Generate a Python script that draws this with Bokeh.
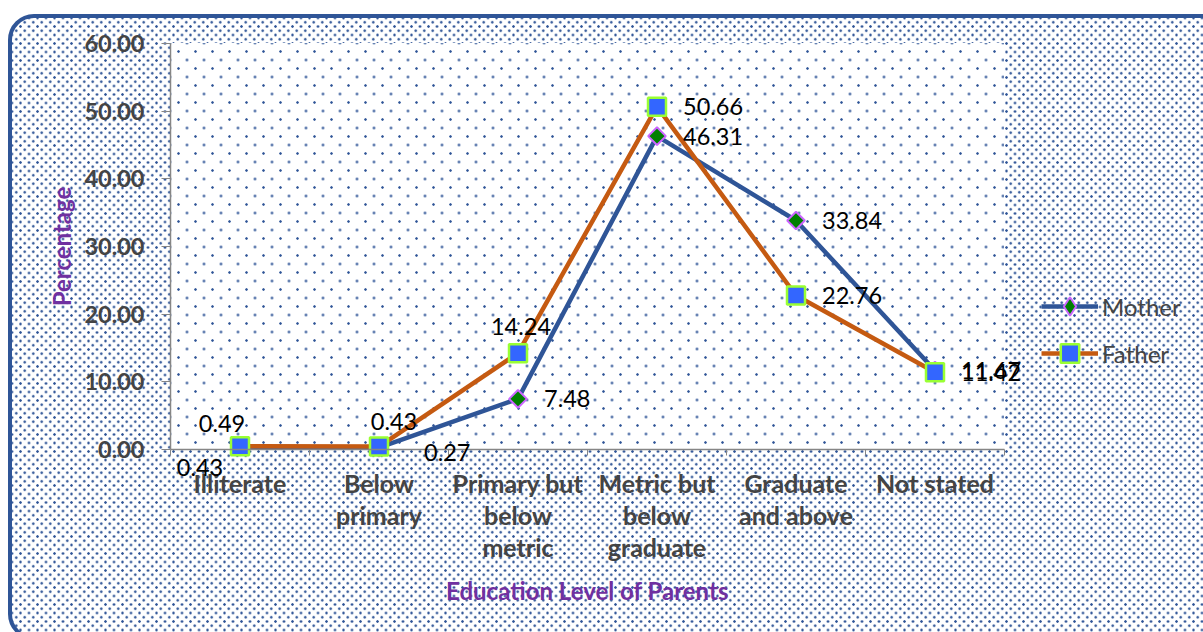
import math
from bokeh.plotting import figure
from bokeh.models import (ColumnDataSource, FixedTicker, Legend, LegendItem, LabelSet, Range1d,
                          InlineStyleSheet)
from bokeh.core.properties import value
from bokeh.embed import file_html
from bokeh.resources import INLINE

categories = ["Illiterate", "Below\nprimary", "Primary but\nbelow\nmetric",
              "Metric but\nbelow\ngraduate", "Graduate\nand above", "Not stated"]
mother = [0.43, 0.27, 7.48, 46.31, 33.84, 11.67]
father = [0.49, 0.43, 14.24, 50.66, 22.76, 11.42]
y_ticks = [0, 10, 20, 30, 40, 50, 60]

# label placement styles (offsets in px, alignment)
place = {"above_l": (-18, 23, "center"), "above_r": (15, 25, "center"), "above_c": (3, 27, "center"),
         "right": (26, 0, "left"), "below_left": (-40, -21, "center"), "below_right": (45, -5, "left")}
mother_pos = ["below_left", "below_right", "right", "right", "right", "right"]
father_pos = ["above_l", "above_r", "above_c", "right", "right", "right"]

FONT = "Lato"
PURPLE = "#7030A0"
BLUE_LINE = "#2F5597"
ORANGE = "#C55A11"
DOT = "#2F5597"

# layout (canvas pixels)
W, H = 1203, 632
PL, PR, PT, PB = 170, 1004, 43, 449   # plot area
YMAX = 60
n = len(categories)
xpp = n / (PR - PL)
ypp = YMAX / (PB - PT)

xs = [i + 0.5 for i in range(n)]

dots = (f"radial-gradient(circle at center, {DOT} 0.9px, rgba(47,85,151,0.35) 1.3px, transparent 1.7px), "
        f"radial-gradient(circle at center, {DOT} 0.9px, rgba(47,85,151,0.35) 1.3px, transparent 1.7px)")
css = f"""
:host {{ position: relative; isolation: isolate; overflow: hidden; }}
:host::before {{
  content: ""; position: absolute; left: 8px; top: 14px; width: 1240px; height: 626px;
  box-sizing: border-box; border: 4px solid {BLUE_LINE}; border-radius: 26px;
  background-color: white; background-image: {dots};
  background-size: 8.5px 8.5px; background-position: 0 0, 4.25px 4.25px;
  z-index: -2;
}}
:host::after {{
  content: ""; position: absolute; left: {PL}px; top: {PT}px; width: {PR - PL}px; height: {PB - PT}px;
  background-color: white; background-image: {dots};
  background-size: 17px 17px; background-position: 0 0, 8.5px 8.5px;
  z-index: -1;
}}
"""

p = figure(width=W, height=H, output_backend="svg", toolbar_location=None,
           x_range=Range1d(-PL * xpp, n + (W - PR) * xpp),
           y_range=Range1d(-(H - PB) * ypp, YMAX + PT * ypp),
           min_border=0, stylesheets=[InlineStyleSheet(css=css)])
p.border_fill_alpha = 0
p.background_fill_alpha = 0
p.outline_line_color = None
p.xgrid.visible = False
p.ygrid.visible = False

src_m = ColumnDataSource(dict(x=xs, y=mother, t=[f"{v:.2f}" for v in mother],
                              dx=[place[k][0] for k in mother_pos], dy=[place[k][1] for k in mother_pos],
                              al=[place[k][2] for k in mother_pos]))
src_f = ColumnDataSource(dict(x=xs, y=father, t=[f"{v:.2f}" for v in father],
                              dx=[place[k][0] for k in father_pos], dy=[place[k][1] for k in father_pos],
                              al=[place[k][2] for k in father_pos]))

mother_marker = dict(fill_color="#008000", line_color="#CC66FF", line_width=2)
lm = p.line("x", "y", source=src_m, line_color=BLUE_LINE, line_width=4.5)
# diamond glyph used for the legend (hidden beneath the rotated-square markers)
sm_leg = p.scatter("x", "y", source=src_m, marker="diamond", size=15, **mother_marker)
sm = p.scatter("x", "y", source=src_m, marker="square", angle=math.pi / 4, size=12.5, **mother_marker)
lf = p.line("x", "y", source=src_f, line_color=ORANGE, line_width=4.5)
sf = p.scatter("x", "y", source=src_f, marker="square", size=18, fill_color="#3366FF",
               line_color="#99FF33", line_width=2.5)

for src in (src_m, src_f):
    p.add_layout(LabelSet(x="x", y="y", text="t", source=src, x_offset="dx", y_offset="dy",
                          text_align="al", text_baseline="middle", text_font=value(FONT),
                          text_font_size="23.5px", text_color="black"))

# axes (drawn at the data origin)
xa = p.xaxis[0]
xa.fixed_location = 0
xa.bounds = (0, n)
xa.ticker = FixedTicker(ticks=xs, minor_ticks=list(range(n + 1)))
xa.major_label_overrides = {x: c for x, c in zip(xs, categories)}
xa.major_tick_out = 0
xa.major_tick_in = 0
xa.minor_tick_out = 6
xa.minor_tick_in = 0
xa.minor_tick_line_color = "#868686"
xa.axis_line_color = "#868686"
xa.axis_line_width = 1.5
xa.major_label_text_font = FONT
xa.major_label_text_font_style = "bold"
xa.major_label_text_font_size = "25px"
xa.major_label_text_line_height = 1.08
xa.major_label_standoff = 12
xa.axis_label = "Education Level of Parents"
xa.axis_label_text_font = FONT
xa.axis_label_text_font_style = "bold"
xa.axis_label_text_font_size = "24px"
xa.axis_label_text_color = PURPLE
xa.axis_label_standoff = 11

ya = p.yaxis[0]
ya.fixed_location = 0
ya.bounds = (0, YMAX)
ya.ticker = FixedTicker(ticks=y_ticks, minor_ticks=[])
ya.major_label_overrides = {v: f"{v:.2f}" for v in y_ticks}
ya.major_tick_out = 9
ya.major_tick_in = 0
ya.major_tick_line_color = "#868686"
ya.axis_line_color = "#868686"
ya.axis_line_width = 1.5
ya.major_label_text_font = FONT
ya.major_label_text_font_style = "bold"
ya.major_label_text_font_size = "23.5px"
ya.major_label_standoff = 17
ya.axis_label = "Percentage"
ya.axis_label_text_font = FONT
ya.axis_label_text_font_style = "bold"
ya.axis_label_text_font_size = "24px"
ya.axis_label_text_color = PURPLE
ya.axis_label_standoff = 5

legend = Legend(items=[LegendItem(label="Mother", renderers=[lm, sm_leg]),
                       LegendItem(label="Father", renderers=[lf, sf])],
                location=(1041, 256), orientation="vertical",
                background_fill_alpha=0, border_line_color=None,
                glyph_width=57, glyph_height=46, label_height=46, spacing=1,
                label_standoff=4, padding=4, margin=0,
                label_text_font=FONT, label_text_font_size="24px", label_text_baseline="middle")
p.add_layout(legend, "center")

open("out.html", "w").write(file_html(p, INLINE))
